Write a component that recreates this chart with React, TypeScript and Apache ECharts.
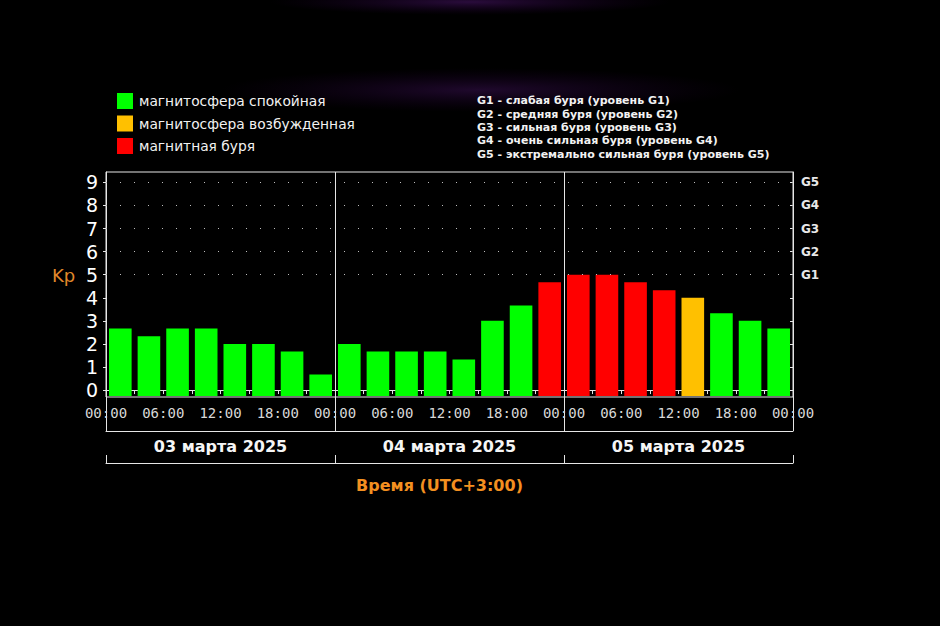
import React, { useEffect, useRef } from "react";
import * as echarts from "echarts";

// ---- data ----
const days = ["03 марта 2025", "04 марта 2025", "05 марта 2025"];
const slotLabels = [
  "03 00-03", "03 03-06", "03 06-09", "03 09-12", "03 12-15", "03 15-18", "03 18-21", "03 21-24",
  "04 00-03", "04 03-06", "04 06-09", "04 09-12", "04 12-15", "04 15-18", "04 18-21", "04 21-24",
  "05 00-03", "05 03-06", "05 06-09", "05 09-12", "05 12-15", "05 15-18", "05 18-21", "05 21-24",
];
const kpValues = [
  2.67, 2.33, 2.67, 2.67, 2, 2, 1.67, 0.67,
  2, 1.67, 1.67, 1.67, 1.33, 3, 3.67, 4.67,
  5, 5, 4.67, 4.33, 4, 3.33, 3, 2.67,
];
// q = quiet, a = active, s = storm
const statuses = [
  "q", "q", "q", "q", "q", "q", "q", "q",
  "q", "q", "q", "q", "q", "q", "q", "s",
  "s", "s", "s", "s", "a", "q", "q", "q",
];
const statusNames: Record<string, string> = {
  q: "магнитосфера спокойная",
  a: "магнитосфера возбужденная",
  s: "магнитная буря",
};
const statusColors: Record<string, string> = {
  q: "#00ff00",
  a: "#ffc000",
  s: "#ff0000",
};
const statusOrder = ["q", "a", "s"];
const kpTicks = [0, 1, 2, 3, 4, 5, 6, 7, 8, 9];
const gLevels = [5, 6, 7, 8, 9];
const gLegendLines = [
  "G1 - слабая буря (уровень G1)",
  "G2 - средняя буря (уровень G2)",
  "G3 - сильная буря (уровень G3)",
  "G4 - очень сильная буря (уровень G4)",
  "G5 - экстремально сильная буря (уровень G5)",
];
const hourTickInterval = 6;
const totalHours = 72;
const yMin = -0.3;
const yMax = 9.45;
const xAxisTitle = "Время (UTC+3:00)";
const yAxisTitle = "Kp";

const FONT = "'DejaVu Sans', Verdana, sans-serif";
const MONO = "'DejaVu Sans Mono', monospace";
const LINE = "#e6e6e6";

export default function App() {
  const ref = useRef<HTMLDivElement>(null);

  useEffect(() => {
    document.body.style.margin = "0";
    document.body.style.background = "#000";
    const chart = echarts.init(ref.current!, null, { renderer: "svg" });

    const barSeries: any[] = statusOrder.map((st) => ({
      name: statusNames[st],
      type: "custom",
      xAxisIndex: 0,
      yAxisIndex: 0,
      itemStyle: { color: statusColors[st] },
      encode: { x: 0, y: 1 },
      data: kpValues
        .map((v, i) => [i, v, statuses[i]])
        .filter((d) => d[2] === st)
        .map((d) => [d[0], d[1]]),
      z: 1,
      renderItem: (params: any, api: any) => {
        const top = api.coord([api.value(0), api.value(1)]);
        const bottom = api.coord([api.value(0), yMin]);
        const w = api.size([1, 0])[0] * 0.79;
        return {
          type: "rect",
          shape: { x: top[0] - w / 2, y: top[1], width: w, height: bottom[1] - top[1] - 1 },
          style: { fill: statusColors[st] },
        };
      },
    }));

    const gridSeries = {
      name: "grid",
      type: "line",
      xAxisIndex: 0,
      yAxisIndex: 0,
      data: slotLabels.map(() => "-"),
      silent: true,
      showSymbol: false,
      z: 2,
      markLine: {
        silent: true,
        symbol: "none",
        label: { show: false },
        lineStyle: { color: "#bdbdbd", type: [1, 13], width: 1 },
        data: gLevels.map((g) => ({ yAxis: g })),
      },
    };

    chart.setOption({
      animation: false,
      backgroundColor: "#000",
      grid: {
        left: 106,
        top: 172,
        width: 687,
        height: 225,
        show: true,
        borderColor: LINE,
        borderWidth: 1,
        containLabel: false,
      },
      legend: {
        orient: "vertical",
        left: 117,
        top: 93,
        padding: 0,
        itemWidth: 16,
        itemHeight: 16,
        itemGap: 6.5,
        icon: "rect",
        selectedMode: false,
        data: statusOrder.map((st) => statusNames[st]),
        textStyle: { color: "#f2f2f2", fontSize: 13.8, fontFamily: FONT, padding: [0, 0, 0, 1] },
      },
      xAxis: [
        {
          type: "category",
          data: slotLabels,
          show: false,
          gridIndex: 0,
        },
        {
          type: "value",
          gridIndex: 0,
          position: "bottom",
          min: 0,
          max: totalHours,
          interval: hourTickInterval,
          axisLine: { show: true, lineStyle: { color: LINE, width: 1 } },
          axisTick: { show: true, length: 4, lineStyle: { color: LINE } },
          minorTick: { show: true, splitNumber: 2, length: 4, lineStyle: { color: LINE } },
          splitLine: { show: false },
          axisLabel: {
            color: "#d8d8d8",
            fontFamily: MONO,
            fontSize: 14,
            margin: 9,
            showMaxLabel: true,
            showMinLabel: true,
            formatter: (v: number) => String(v % 24).padStart(2, "0") + ":00",
          },
        },
        {
          type: "category",
          gridIndex: 0,
          position: "bottom",
          offset: 34,
          data: days,
          axisLine: { show: true, lineStyle: { color: LINE, width: 1 } },
          axisTick: { show: true, inside: true, length: 34, lineStyle: { color: LINE } },
          splitLine: { show: true, lineStyle: { color: LINE, width: 1 } },
          axisLabel: {
            color: "#f5f5f5",
            fontFamily: FONT,
            fontWeight: "bold",
            fontSize: 16,
            margin: 7,
          },
        },
        {
          type: "category",
          gridIndex: 0,
          position: "bottom",
          offset: 66,
          data: days,
          axisLine: { show: true, lineStyle: { color: LINE, width: 1 } },
          axisTick: { show: true, inside: true, length: 8, lineStyle: { color: LINE } },
          axisLabel: { show: false },
          name: xAxisTitle,
          nameLocation: "middle",
          nameGap: 14,
          nameTextStyle: {
            color: "#f39020",
            fontFamily: FONT,
            fontWeight: "bold",
            fontSize: 16,
            padding: [0, 20, 0, 0],
          },
        },
      ],
      yAxis: [
        {
          type: "value",
          gridIndex: 0,
          position: "left",
          min: yMin,
          max: yMax,
          splitLine: { show: false },
          axisLine: { show: true, lineStyle: { color: LINE } },
          axisTick: { show: true, length: 3, customValues: kpTicks, lineStyle: { color: LINE } },
          axisLabel: {
            customValues: kpTicks,
            color: "#ffffff",
            fontFamily: FONT,
            fontSize: 19,
            margin: 8,
          },
        },
        {
          type: "value",
          gridIndex: 0,
          position: "right",
          min: yMin,
          max: yMax,
          splitLine: { show: false },
          axisLine: { show: true, lineStyle: { color: LINE } },
          axisTick: { show: true, inside: true, length: 3, customValues: kpTicks, lineStyle: { color: LINE } },
          axisLabel: {
            customValues: gLevels,
            color: "#e8e8e8",
            fontFamily: FONT,
            fontWeight: "bold",
            fontSize: 12,
            margin: 8,
            formatter: (v: number) => "G" + (v - 4),
          },
        },
      ],
      graphic: [
        {
          type: "ellipse",
          shape: { cx: 470, cy: 2, rx: 200, ry: 13 },
          style: {
            fill: new echarts.graphic.RadialGradient(0.5, 0.5, 0.5, [
              { offset: 0, color: "rgba(70,20,100,0.6)" },
              { offset: 1, color: "rgba(40,0,60,0)" },
            ]),
          },
          silent: true,
          z: -10,
        },
        {
          type: "ellipse",
          shape: { cx: 480, cy: 90, rx: 260, ry: 22 },
          style: {
            fill: new echarts.graphic.RadialGradient(0.5, 0.5, 0.5, [
              { offset: 0, color: "rgba(70,20,100,0.45)" },
              { offset: 1, color: "rgba(40,0,60,0)" },
            ]),
          },
          silent: true,
          z: -10,
        },
        {
          type: "text",
          left: 477,
          top: 94,
          style: {
            text: gLegendLines.join("\n"),
            fill: "#f2f2f2",
            font: `bold 11px ${FONT}`,
            lineHeight: 13.4,
          },
        },
        {
          type: "text",
          left: 52,
          top: 266,
          style: {
            text: yAxisTitle,
            fill: "#e0882a",
            font: `18px ${FONT}`,
          },
        },
      ],
      series: [gridSeries, ...barSeries],
    });

    return () => chart.dispose();
  }, []);

  return <div ref={ref} style={{ width: 940, height: 626 }} />;
}
